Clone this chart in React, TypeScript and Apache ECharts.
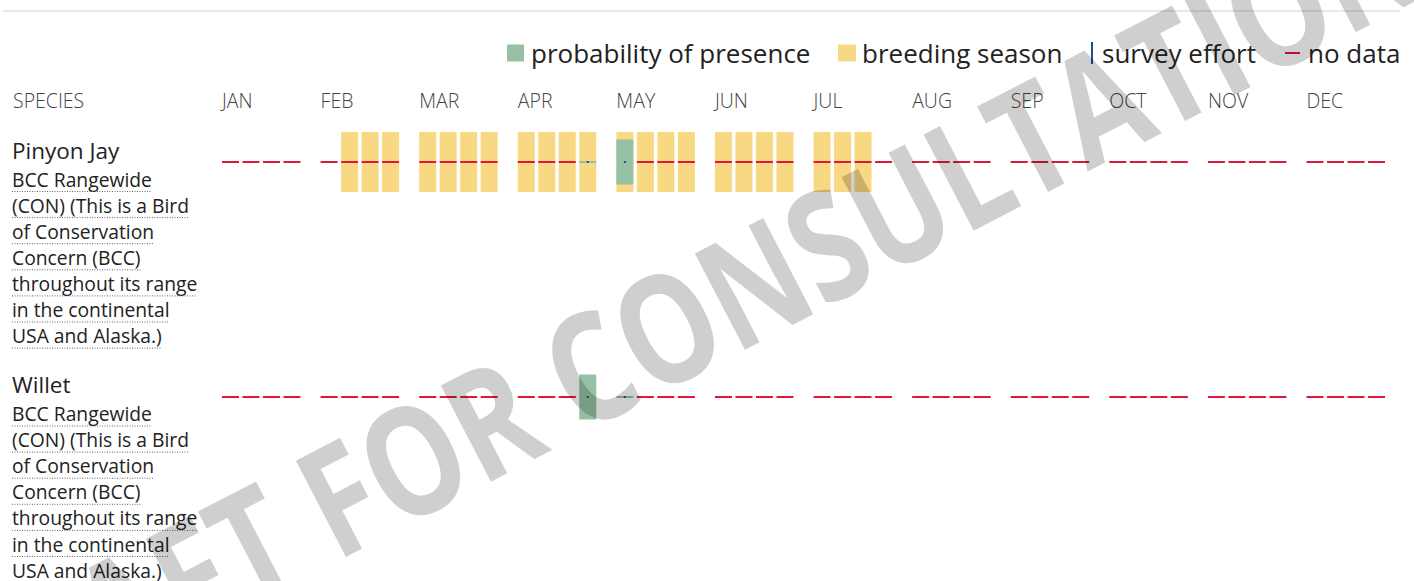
import React, { useEffect, useRef } from 'react';
import * as echarts from 'echarts';

// ---------- data ----------
const MONTHS = ['JAN', 'FEB', 'MAR', 'APR', 'MAY', 'JUN', 'JUL', 'AUG', 'SEP', 'OCT', 'NOV', 'DEC'];
const SPECIES = ['Pinyon Jay', 'Willet'];
const SPECIES_NOTES = [
  ['BCC Rangewide', '(CON) (This is a Bird', 'of Conservation', 'Concern (BCC)', 'throughout its range', 'in the continental', 'USA and Alaska.)'],
  ['BCC Rangewide', '(CON) (This is a Bird', 'of Conservation', 'Concern (BCC)', 'throughout its range', 'in the continental', 'USA and Alaska.)'],
];
const LEGEND_NAMES = ['probability of presence', 'breeding season', 'survey effort', 'no data'];

// 48 weeks (4 per month); 1 = breeding season
const PINYON_BREEDING = [
  0, 0, 0, 0, 0, 1, 1, 1, 1, 1, 1, 1, 1, 1, 1, 1, 1, 1, 1, 1, 1, 1, 1, 1,
  1, 1, 1, 0, 0, 0, 0, 0, 0, 0, 0, 0, 0, 0, 0, 0, 0, 0, 0, 0, 0, 0, 0, 0,
];
const WILLET_BREEDING = [
  0, 0, 0, 0, 0, 0, 0, 0, 0, 0, 0, 0, 0, 0, 0, 0, 0, 0, 0, 0, 0, 0, 0, 0,
  0, 0, 0, 0, 0, 0, 0, 0, 0, 0, 0, 0, 0, 0, 0, 0, 0, 0, 0, 0, 0, 0, 0, 0,
];
// probability of presence (relative, null = no data)
const PINYON_PRESENCE = [
  null, null, null, null, null, null, null, null, null, null, null, null,
  null, null, null, 0.03, 0.75, null, null, null, null, null, null, null,
  null, null, null, null, null, null, null, null, null, null, null, null,
  null, null, null, null, null, null, null, null, null, null, null, null,
];
const WILLET_PRESENCE = [
  null, null, null, null, null, null, null, null, null, null, null, null,
  null, null, null, 0.75, 0.03, null, null, null, null, null, null, null,
  null, null, null, null, null, null, null, null, null, null, null, null,
  null, null, null, null, null, null, null, null, null, null, null, null,
];
// survey effort
const PINYON_EFFORT = [
  null, null, null, null, null, null, null, null, null, null, null, null,
  null, null, null, 0.03, 0.03, null, null, null, null, null, null, null,
  null, null, null, null, null, null, null, null, null, null, null, null,
  null, null, null, null, null, null, null, null, null, null, null, null,
];
const WILLET_EFFORT = [
  null, null, null, null, null, null, null, null, null, null, null, null,
  null, null, null, 0.03, 0.03, null, null, null, null, null, null, null,
  null, null, null, null, null, null, null, null, null, null, null, null,
  null, null, null, null, null, null, null, null, null, null, null, null,
];

const BREEDING = [PINYON_BREEDING, WILLET_BREEDING];
const PRESENCE = [PINYON_PRESENCE, WILLET_PRESENCE];
const EFFORT = [PINYON_EFFORT, WILLET_EFFORT];

// ---------- layout ----------
const MONTH_STEP = 4.81; // month width in week-slot units
const BAR_W = 0.829; // bar width in week-slot units
const X_MAX = 11 * MONTH_STEP + 3 + BAR_W;
const ROW_H = 0.2553; // full bar height in row units
const FONT = '"Open Sans", "Noto Sans", sans-serif';
const GREEN = '#95c0a4';
const YELLOW = '#f9d884';
const BLUE = '#1f4f8f';
const RED = '#e0173d';

const weekX = (w: number) => Math.floor(w / 4) * MONTH_STEP + (w % 4);

function makeRenderer(kind: string, color: string) {
  return (params: any, api: any) => {
    const w = api.value(0);
    const row = api.value(1);
    const v = api.value(2);
    const c = api.coord([weekX(w), row]);
    const full = api.size([BAR_W, ROW_H]);
    let x = c[0];
    let width = full[0];
    let h = full[1];
    if (kind === 'line') h = 2;
    if (kind === 'presence') h = Math.max(2, v * full[1]);
    if (kind === 'effort') {
      h = Math.max(2, v * full[1]);
      width = 2;
      x = c[0] + full[0] / 2 - 1;
    }
    return {
      type: 'rect',
      shape: { x, y: c[1] - h / 2, width, height: h },
      style: { fill: color },
    };
  };
}

function measure(text: string, font: string) {
  const ctx = document.createElement('canvas').getContext('2d')!;
  ctx.font = font;
  return ctx.measureText(text).width;
}

export default function App() {
  const ref = useRef<HTMLDivElement>(null);
  useEffect(() => {
    const chart = echarts.init(ref.current!, null, { renderer: 'svg' });

    const breedingData: any[] = [];
    const noData: any[] = [];
    const presenceData: any[] = [];
    const effortData: any[] = [];
    SPECIES.forEach((_, s) => {
      for (let w = 0; w < 48; w++) {
        if (BREEDING[s][w]) breedingData.push([w, s]);
        if (PRESENCE[s][w] == null) noData.push([w, s]);
        else presenceData.push([w, s, PRESENCE[s][w]]);
        if (EFFORT[s][w] != null) effortData.push([w, s, EFFORT[s][w]]);
      }
    });

    const noteFont = `19.3px ${FONT}`;
    const graphics: any[] = [
      { type: 'line', shape: { x1: 3, y1: 11, x2: 1400, y2: 11 }, style: { stroke: '#e8e8e8', lineWidth: 2 }, silent: true },
      {
        type: 'text', x: 13, y: 100,
        style: { text: 'SPECIES', font: `300 19.5px ${FONT}`, fill: '#444', align: 'left', verticalAlign: 'middle' },
      },
    ];
    SPECIES.forEach((name, s) => {
      const base = s * 234.5;
      graphics.push({
        type: 'text', x: 12, y: 150 + base,
        style: { text: name, font: `22.5px ${FONT}`, fill: '#222', align: 'left', verticalAlign: 'middle' },
      });
      SPECIES_NOTES[s].forEach((line, i) => {
        const y = 179 + base + i * 26.1;
        graphics.push({
          type: 'text', x: 12, y,
          style: { text: line, font: noteFont, fill: '#222', align: 'left', verticalAlign: 'middle' },
        });
        const wdt = measure(line, noteFont);
        graphics.push({
          type: 'line', shape: { x1: 12, y1: y + 12.5, x2: 12 + wdt, y2: y + 12.5 },
          style: { stroke: '#666', lineWidth: 1, lineDash: [1, 1.5] }, silent: true,
        });
      });
    });
    graphics.push({
      type: 'text', x: 670, y: 322, rotation: 0.48, scaleX: 0.8, z: 100, silent: true,
      style: {
        text: 'DRAFT FOR CONSULTATION', font: `bold 152px ${FONT}`,
        fill: 'rgba(0,0,0,0.19)', align: 'center', verticalAlign: 'middle',
      },
    });

    const legendBase = {
      orient: 'horizontal', padding: 0, selectedMode: false, icon: 'rect',
      textStyle: { fontSize: 26, fontFamily: FONT, color: '#222' },
    };

    chart.setOption({
      animation: false,
      backgroundColor: '#fff',
      legend: [
        { ...legendBase, data: [LEGEND_NAMES[0]], left: 507, top: 40, itemWidth: 17, itemHeight: 17, textStyle: { ...legendBase.textStyle, padding: [0, 0, 0, 2] } },
        { ...legendBase, data: [LEGEND_NAMES[1]], left: 838, top: 40, itemWidth: 18, itemHeight: 17, textStyle: { ...legendBase.textStyle, padding: [0, 0, 0, 1] } },
        { ...legendBase, data: [LEGEND_NAMES[2]], left: 1091, top: 40, itemWidth: 2, itemHeight: 22, textStyle: { ...legendBase.textStyle, padding: [0, 0, 0, 4] } },
        { ...legendBase, data: [LEGEND_NAMES[3]], left: 1285, top: 40, itemWidth: 15, itemHeight: 2, textStyle: { ...legendBase.textStyle, padding: [0, 0, 0, 3] } },
      ],
      grid: [
        { left: 222, width: 1163, top: 44.5, height: 470 },
        { left: 222, width: 1163, top: 100, height: 1 },
      ],
      xAxis: [
        { type: 'value', gridIndex: 0, min: 0, max: X_MAX, show: false },
        {
          type: 'value', gridIndex: 1, min: 0, max: X_MAX, interval: MONTH_STEP, position: 'top',
          axisLine: { show: false }, axisTick: { show: false }, splitLine: { show: false },
          axisLabel: {
            formatter: (v: number) => MONTHS[Math.round(v / MONTH_STEP)] ?? '',
            align: 'left', verticalAlign: 'middle', margin: 0,
            fontSize: 19.5, fontWeight: 300, fontFamily: FONT, color: '#444',
          },
        },
      ],
      yAxis: [
        { type: 'value', gridIndex: 0, min: -0.5, max: 1.5, inverse: true, show: false },
        { type: 'value', gridIndex: 1, show: false },
      ],
      series: [
        { type: 'custom', name: LEGEND_NAMES[1], xAxisIndex: 0, yAxisIndex: 0, data: breedingData, renderItem: makeRenderer('full', YELLOW), itemStyle: { color: YELLOW }, z: 1 },
        { type: 'custom', name: LEGEND_NAMES[3], xAxisIndex: 0, yAxisIndex: 0, data: noData, renderItem: makeRenderer('line', RED), itemStyle: { color: RED }, z: 2 },
        { type: 'custom', name: LEGEND_NAMES[0], xAxisIndex: 0, yAxisIndex: 0, data: presenceData, renderItem: makeRenderer('presence', GREEN), itemStyle: { color: GREEN }, z: 3 },
        { type: 'custom', name: LEGEND_NAMES[2], xAxisIndex: 0, yAxisIndex: 0, data: effortData, renderItem: makeRenderer('effort', BLUE), itemStyle: { color: BLUE }, z: 4 },
      ],
      graphic: graphics,
    });
    return () => chart.dispose();
  }, []);
  return <div ref={ref} style={{ position: 'fixed', left: 0, top: 0, width: 1414, height: 581 }} />;
}
